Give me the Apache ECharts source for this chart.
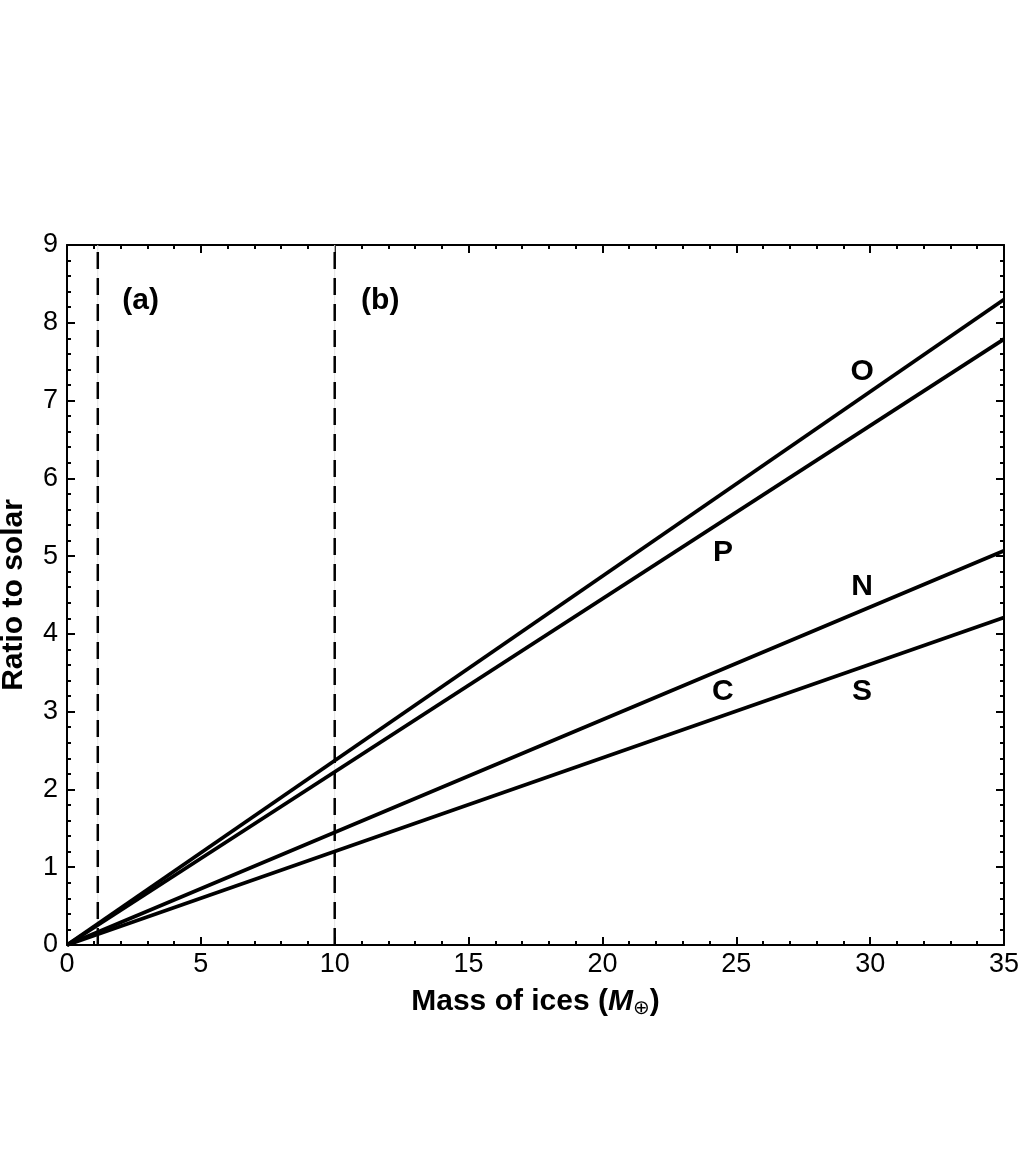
<!DOCTYPE html>
<html>
<head>
<meta charset="utf-8">
<script src="https://cdn.jsdelivr.net/npm/echarts@6/dist/echarts.min.js"></script>
<style>
  html, body { margin: 0; padding: 0; background: #fff; }
  #chart { width: 1022px; height: 1170px; }
</style>
</head>
<body>
<div id="chart"></div>
<script>
// ratio to solar at mass of ices = 0 and 35
const massEnds = [0, 35];
const ratioO = [0, 8.30];
const ratioP = [0, 7.79];
const ratioN = [0, 5.07];
const ratioS = [0, 4.21];

// vertical markers (a) and (b)
const markerX = [1.15, 10];
const markerNames = ['(a)', '(b)'];
const markerLabelPos = [[2.75, 8.28], [11.7, 8.28]];

// element labels
const elemNames = ['O', 'P', 'N', 'C', 'S'];
const elemPos = [[29.7, 7.37], [24.5, 5.04], [29.7, 4.6], [24.5, 3.26], [29.7, 3.26]];

const xTicks = [0, 5, 10, 15, 20, 25, 30, 35];
const yTicks = [0, 1, 2, 3, 4, 5, 6, 7, 8, 9];

const FONT = 'Liberation Sans, Arial, sans-serif';

function lineSeries(name, ys) {
  return {
    name: name,
    type: 'line',
    data: massEnds.map((x, i) => [x, ys[i]]),
    symbol: 'none',
    lineStyle: { color: '#000', width: 3.8 },
    z: 5
  };
}

const series = [
  lineSeries('O', ratioO),
  lineSeries('P', ratioP),
  lineSeries('N', ratioN),
  lineSeries('S', ratioS)
];

markerX.forEach((x) => {
  // faint guide underneath the dashes
  series.push({
    type: 'line',
    data: [[x, 0], [x, 9]],
    symbol: 'none',
    lineStyle: { color: '#e2e2e2', width: 1 },
    z: 2
  });
  series.push({
    type: 'line',
    data: [[x, 0], [x, 9]],
    symbol: 'none',
    lineStyle: { color: '#000', width: 2.5, type: [17, 9] },
    z: 3
  });
});

series.push({
  type: 'scatter',
  symbolSize: 0,
  itemStyle: { opacity: 1, color: '#000' },
  data: elemPos.map((p, i) => ({ value: p, name: elemNames[i] }))
    .concat(markerLabelPos.map((p, i) => ({ value: p, name: markerNames[i] }))),
  label: {
    show: true,
    position: 'inside',
    formatter: (p) => p.name,
    color: '#000',
    opacity: 1,
    textBorderWidth: 0,
    fontFamily: FONT,
    fontWeight: 'bold',
    fontSize: 30
  },
  emphasis: { disabled: true },
  z: 6
});

const chart = echarts.init(document.getElementById('chart'));

const axisLine = { show: true, onZero: false, lineStyle: { color: '#000', width: 2 } };
const axisTick = { show: true, inside: true, length: 8, lineStyle: { color: '#000', width: 2 } };
const minorTick = { show: true, splitNumber: 5, length: 4, lineStyle: { color: '#000', width: 2 } };

chart.setOption({
  animation: false,
  backgroundColor: '#fff',
  grid: { left: 67, right: 18, top: 245, bottom: 225, containLabel: false, outerBoundsMode: 'none' },
  xAxis: [
    {
      type: 'value', min: 0, max: 35, interval: 5,
      axisLine: axisLine, axisTick: axisTick, minorTick: minorTick,
      splitLine: { show: false },
      axisLabel: {
        color: '#000', fontFamily: FONT, fontSize: 27, margin: 6,
        formatter: (v) => xTicks.includes(v) ? String(v) : ''
      },
      name: '{b|Mass of ices (}{i|M}{s|⊕}{b|)}',
      nameLocation: 'middle',
      nameGap: 40,
      nameTextStyle: {
        rich: {
          b: { fontFamily: FONT, fontWeight: 'bold', fontSize: 30, color: '#000' },
          i: { fontFamily: FONT, fontWeight: 'bold', fontStyle: 'italic', fontSize: 30, color: '#000' },
          s: { fontFamily: 'DejaVu Sans, sans-serif', fontSize: 20, color: '#000', padding: [14, 0, 0, 0] }
        }
      }
    },
    {
      type: 'value', min: 0, max: 35, interval: 5, position: 'top',
      axisLine: axisLine, axisTick: axisTick, minorTick: minorTick,
      splitLine: { show: false }, axisLabel: { show: false }
    }
  ],
  yAxis: [
    {
      type: 'value', min: 0, max: 9, interval: 1,
      axisLine: axisLine, axisTick: axisTick, minorTick: minorTick,
      splitLine: { show: false },
      axisLabel: {
        color: '#000', fontFamily: FONT, fontSize: 27, margin: 9,
        formatter: (v) => yTicks.includes(v) ? String(v) : ''
      },
      name: 'Ratio to solar',
      nameLocation: 'middle',
      nameGap: 38,
      nameTextStyle: { color: '#000', fontFamily: FONT, fontWeight: 'bold', fontSize: 30 }
    },
    {
      type: 'value', min: 0, max: 9, interval: 1, position: 'right',
      axisLine: axisLine, axisTick: axisTick, minorTick: minorTick,
      splitLine: { show: false }, axisLabel: { show: false }
    }
  ],
  series: series
});
</script>
</body>
</html>
